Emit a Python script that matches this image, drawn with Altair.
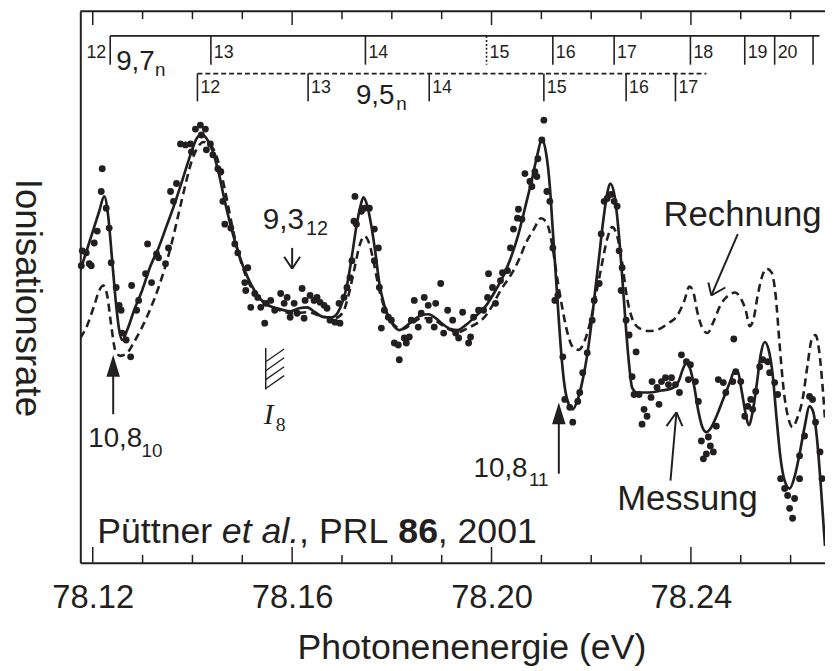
import altair as alt
import pandas as pd

# ---------------- data ----------------
# Messung (measured points): photon energy (eV), ionisation rate (arb. units)
meas_E = [78.1177, 78.1179, 78.1187, 78.1193, 78.1197, 78.1203, 78.1209, 78.1217, 78.1219, 78.1227,
          78.1233, 78.1237, 78.1247, 78.1253, 78.1257, 78.1259, 78.1267, 78.1276, 78.1278, 78.1288,
          78.1292, 78.1306, 78.1310, 78.1318, 78.1328, 78.1332, 78.1346, 78.1352, 78.1356, 78.1362,
          78.1368, 78.1376, 78.1386, 78.1396, 78.1398, 78.1406, 78.1416, 78.1426, 78.1418, 78.1428,
          78.1436, 78.1441, 78.1451, 78.1457, 78.1461, 78.1465, 78.1477, 78.1485, 78.1491, 78.1511,
          78.1505, 78.1507, 78.1525, 78.1517, 78.1531, 78.1537, 78.1545, 78.1547, 78.1557, 78.1565,
          78.1577, 78.1584, 78.1590, 78.1596, 78.1604, 78.1610, 78.1620, 78.1624, 78.1626, 78.1636,
          78.1644, 78.1650, 78.1656, 78.1664, 78.1670, 78.1676, 78.1686, 78.1696, 78.1694, 78.1704,
          78.1710, 78.1716, 78.1720, 78.1724, 78.1726, 78.1729, 78.1739, 78.1745, 78.1755, 78.1765,
          78.1773, 78.1765, 78.1775, 78.1785, 78.1793, 78.1779, 78.1799, 78.1805, 78.1813, 78.1815,
          78.1825, 78.1829, 78.1835, 78.1839, 78.1845, 78.1853, 78.1859, 78.1865, 78.1873, 78.1875,
          78.1885, 78.1888, 78.1898, 78.1904, 78.1912, 78.1922, 78.1928, 78.1934, 78.1942, 78.1954,
          78.1958, 78.1964, 78.1974, 78.1984, 78.1992, 78.1994, 78.2002, 78.2008, 78.2018, 78.2022,
          78.2032, 78.2038, 78.2044, 78.2052, 78.2054, 78.2061, 78.2067, 78.2077, 78.2081, 78.2087,
          78.2091, 78.2093, 78.2101, 78.2105, 78.2111, 78.2117, 78.2123, 78.2127, 78.2133, 78.2143,
          78.2147, 78.2157, 78.2163, 78.2173, 78.2177, 78.2183, 78.2192, 78.2202, 78.2206, 78.2216,
          78.2220, 78.2226, 78.2232, 78.2240, 78.2246, 78.2252, 78.2256, 78.2260, 78.2262, 78.2270,
          78.2276, 78.2290, 78.2282, 78.2286, 78.2296, 78.2306, 78.2312, 78.2302, 78.2320, 78.2322,
          78.2332, 78.2336, 78.2341, 78.2349, 78.2355, 78.2361, 78.2369, 78.2377, 78.2381, 78.2391,
          78.2399, 78.2395, 78.2409, 78.2415, 78.2421, 78.2435, 78.2439, 78.2431, 78.2425, 78.2445,
          78.2451, 78.2455, 78.2465, 78.2470, 78.2484, 78.2486, 78.2490, 78.2500, 78.2508, 78.2514,
          78.2520, 78.2524, 78.2530, 78.2538, 78.2544, 78.2554, 78.2558, 78.2568, 78.2574, 78.2580,
          78.2588, 78.2594, 78.2598, 78.2604, 78.2608, 78.2618, 78.2618, 78.2628, 78.2638, 78.2644,
          78.2650, 78.2659, 78.2663]
meas_rate = [300, 315, 313, 302, 300, 323, 335, 375, 398, 358,
             338, 303, 278, 260, 255, 232, 225, 208, 280, 255,
             265, 292, 322, 283, 312, 308, 302, 318, 375, 365,
             383, 423, 422, 423, 415, 438, 442, 438, 432, 417,
             423, 412, 398, 395, 365, 342, 338, 322, 313, 298,
             283, 275, 272, 258, 268, 258, 242, 262, 265, 255,
             272, 262, 268, 248, 262, 252, 277, 247, 265, 270,
             265, 268, 263, 260, 257, 245, 243, 242, 262, 268,
             278, 288, 305, 345, 370, 342, 355, 358, 358, 337,
             318, 305, 278, 255, 248, 237, 245, 222, 220, 205,
             227, 222, 228, 245, 265, 238, 252, 268, 260, 245,
             238, 262, 282, 232, 255, 245, 232, 227, 253, 222,
             228, 248, 255, 255, 268, 292, 278, 262, 285, 293,
             295, 318, 337, 348, 357, 347, 393, 385, 380, 395,
             390, 408, 427, 447, 375, 365, 318, 265, 270, 208,
             165, 157, 142, 163, 172, 192, 212, 245, 265, 282,
             332, 365, 368, 372, 365, 360, 315, 275, 298, 245,
             230, 213, 188, 170, 170, 155, 148, 140, 167, 183,
             177, 160, 183, 187, 180, 187, 180, 172, 210, 203,
             200, 185, 183, 163, 123, 127, 118, 110, 105, 112,
             138, 185, 182, 172, 183, 226, 193, 183, 148, 158,
             165, 155, 173, 198, 205, 203, 192, 182, 170, 85,
             75, 68, 55, 45, 65, 85, 108, 128, 168, 165,
             142, 112, 85]

# fit to the measurement (solid line)
fit_E = [78.1175, 78.1199, 78.1213, 78.1223, 78.1231, 78.1239, 78.1247, 78.1253, 78.1259, 78.1269,
         78.1283, 78.1299, 78.1316, 78.1332, 78.1348, 78.1366, 78.1382, 78.1398, 78.1408, 78.1417,
         78.1429, 78.1441, 78.1453, 78.1465, 78.1477, 78.1491, 78.1511, 78.1527, 78.1545, 78.1570,
         78.1596, 78.1614, 78.1630, 78.1646, 78.1664, 78.1680, 78.1692, 78.1702, 78.1710, 78.1720,
         78.1729, 78.1737, 78.1743, 78.1751, 78.1759, 78.1767, 78.1775, 78.1785, 78.1799, 78.1815,
         78.1829, 78.1843, 78.1859, 78.1874, 78.1888, 78.1902, 78.1918, 78.1932, 78.1948, 78.1968,
         78.1988, 78.2008, 78.2022, 78.2038, 78.2054, 78.2068, 78.2081, 78.2091, 78.2101, 78.2109,
         78.2117, 78.2123, 78.2129, 78.2135, 78.2141, 78.2147, 78.2155, 78.2163, 78.2173, 78.2183,
         78.2192, 78.2200, 78.2208, 78.2216, 78.2224, 78.2232, 78.2238, 78.2246, 78.2254, 78.2262,
         78.2270, 78.2276, 78.2282, 78.2292, 78.2316, 78.2341, 78.2361, 78.2375, 78.2385, 78.2391,
         78.2399, 78.2407, 78.2415, 78.2423, 78.2431, 78.2441, 78.2453, 78.2466, 78.2478, 78.2488,
         78.2494, 78.2502, 78.2510, 78.2516, 78.2524, 78.2532, 78.2540, 78.2548, 78.2556, 78.2564,
         78.2572, 78.2580, 78.2588, 78.2598, 78.2608, 78.2618, 78.2628, 78.2638, 78.2645, 78.2653,
         78.2661, 78.2669]
fit_rate = [295, 333, 355, 370, 350, 305, 260, 235, 225, 235,
            255, 275, 300, 318, 340, 365, 390, 415, 428, 433,
            428, 415, 393, 365, 340, 315, 288, 273, 262, 257,
            254, 257, 258, 253, 248, 248, 253, 265, 280, 310,
            340, 360, 369, 360, 340, 313, 282, 260, 243, 235,
            239, 245, 250, 251, 247, 241, 236, 235, 240, 249,
            259, 275, 288, 307, 332, 360, 387, 410, 427, 415,
            380, 335, 290, 245, 205, 177, 160, 155, 165, 185,
            210, 240, 275, 310, 345, 373, 383, 373, 340, 290,
            235, 200, 177, 172, 172, 174, 176, 183, 197, 202,
            195, 177, 153, 137, 132, 137, 150, 167, 182, 194,
            193, 173, 150, 139, 153, 180, 210, 223, 215, 190,
            145, 105, 83, 75, 87, 110, 137, 158, 153, 125,
            75, 17]

# Rechnung (calculation, dashed line)
calc_E = [78.1175, 78.1189, 78.1203, 78.1213, 78.1221, 78.1229, 78.1237, 78.1245, 78.1255, 78.1267,
          78.1283, 78.1299, 78.1316, 78.1332, 78.1346, 78.1358, 78.1372, 78.1386, 78.1398, 78.1410,
          78.1422, 78.1433, 78.1445, 78.1457, 78.1469, 78.1481, 78.1495, 78.1511, 78.1527, 78.1545,
          78.1570, 78.1600, 78.1630, 78.1660, 78.1686, 78.1702, 78.1713, 78.1725, 78.1735, 78.1745,
          78.1755, 78.1765, 78.1775, 78.1789, 78.1805, 78.1821, 78.1839, 78.1859, 78.1878, 78.1898,
          78.1918, 78.1934, 78.1952, 78.1968, 78.1984, 78.2002, 78.2018, 78.2038, 78.2054, 78.2069,
          78.2085, 78.2099, 78.2111, 78.2121, 78.2131, 78.2141, 78.2151, 78.2163, 78.2175, 78.2186,
          78.2198, 78.2210, 78.2222, 78.2232, 78.2242, 78.2252, 78.2262, 78.2272, 78.2282, 78.2296,
          78.2316, 78.2336, 78.2355, 78.2373, 78.2387, 78.2397, 78.2405, 78.2413, 78.2423, 78.2433,
          78.2445, 78.2459, 78.2475, 78.2489, 78.2500, 78.2510, 78.2518, 78.2526, 78.2534, 78.2542,
          78.2552, 78.2562, 78.2570, 78.2578, 78.2586, 78.2596, 78.2604, 78.2614, 78.2624, 78.2634,
          78.2642, 78.2650, 78.2657, 78.2663, 78.2669]
calc_rate = [227, 240, 260, 275, 280, 270, 240, 215, 209, 211,
             223, 238, 257, 278, 300, 322, 352, 382, 405, 419,
             425, 423, 415, 395, 367, 337, 308, 285, 271, 263,
             256, 252, 253, 249, 247, 253, 270, 297, 320, 330,
             322, 300, 275, 253, 240, 236, 241, 247, 247, 241,
             235, 233, 237, 241, 247, 260, 275, 290, 305, 323,
             337, 348, 343, 323, 290, 260, 235, 218, 215, 223,
             243, 272, 303, 327, 339, 330, 303, 267, 247, 237,
             234, 236, 242, 250, 265, 279, 273, 253, 237, 232,
             243, 260, 270, 273, 267, 255, 239, 247, 270, 288,
             297, 293, 270, 220, 175, 145, 137, 147, 165, 200,
             225, 230, 215, 185, 145]

# level series at the top: 9,7_n (solid) and 9,5_n (dashed)
lvl97_E = [78.1235, 78.1437, 78.1747, 78.1990, 78.2123, 78.2246, 78.2399, 78.2508, 78.2568, 78.2645]
lvl97_n = ["12", "13", "14", "15", "16", "17", "18", "19", "20", ""]
lvl97_dotted = [False, False, False, True, False, False, False, False, False, False]
lvl97_end = 78.2658
lvl95_E = [78.1410, 78.1632, 78.1875, 78.2105, 78.2270, 78.2369]
lvl95_n = ["12", "13", "14", "15", "16", "17"]
lvl95_end = 78.2431

major_ticks = [78.12, 78.16, 78.20, 78.24]
minor_ticks = [78.13, 78.14, 78.15, 78.17, 78.18, 78.19, 78.21, 78.22, 78.23, 78.25, 78.26]

# ---------------- layout / style ----------------
XMIN, XMAX = 78.1175, 78.2669
W, H = 752, 557
INK = "#231f20"
FONT = "Liberation Sans"
SERIF = "Liberation Serif"


def X(field="E"):
    return alt.X(
        f"{field}:Q",
        scale=alt.Scale(domain=[XMIN, XMAX], nice=False, zero=False),
        axis=alt.Axis(values=major_ticks, format=".2f", ticks=False, grid=False,
                      domainColor=INK, domainWidth=2, labelFontSize=33, labelColor=INK,
                      labelPadding=19, labelFont=FONT, labelFlush=False, labelOverlap=False,
                      title="Photonenenergie (eV)", titleFontSize=36, titleFont=FONT,
                      titleFontWeight="normal", titleColor=INK, titleX=395, titleY=97,
                      titleBaseline="alphabetic", titleAlign="center"),
    )


def Y(field="rate"):
    return alt.Y(
        f"{field}:Q",
        scale=alt.Scale(domain=[0, H], nice=False, zero=False),
        axis=alt.Axis(labels=False, ticks=False, grid=False, domainColor=INK, domainWidth=2,
                      title="Ionisationsrate", titleAngle=90, titleFontSize=37, titleFont=FONT,
                      titleFontWeight="normal", titleColor=INK, titleX=-65, titleY=289,
                      titleAlign="center", titleBaseline="alphabetic"),
    )


def seg_df(e1, r1, e2, r2):
    return pd.DataFrame({"E": e1, "rate": r1, "E2": e2, "rate2": r2})


def segs(df, width=1.6, dash=None):
    kw = dict(color=INK, strokeWidth=width)
    if dash:
        kw["strokeDash"] = dash
    return alt.Chart(df).mark_rule(**kw).encode(x=X(), y=Y(), x2="E2:Q", y2="rate2:Q")


def txt(E, rate, t, size, align="left", font=FONT, style="normal", weight="normal",
        baseline="alphabetic", dx=0):
    df = pd.DataFrame({"E": E, "rate": rate, "t": t})
    return alt.Chart(df).mark_text(fontSize=size, align=align, font=font, fontStyle=style,
                                   fontWeight=weight, baseline=baseline, color=INK, dx=dx
                                   ).encode(x=X(), y=Y(), text="t:N")


layers = []

# frame: top border and inside ticks
layers.append(alt.Chart(pd.DataFrame({"E": [XMIN], "E2": [XMAX]})).mark_rule(color=INK, strokeWidth=2)
              .encode(x=X(), x2="E2:Q", y=alt.value(0)))
tick_major = pd.DataFrame({"E": major_ticks})
tick_minor = pd.DataFrame({"E": minor_ticks})
for df, ln in [(tick_major, 16), (tick_minor, 8)]:
    layers.append(alt.Chart(df).mark_rule(color=INK, strokeWidth=1.5)
                  .encode(x=X(), y=alt.value(H), y2=alt.value(H - ln)))
for df, ln in [(tick_major, 14), (tick_minor, 8)]:
    layers.append(alt.Chart(df).mark_rule(color=INK, strokeWidth=1.5)
                  .encode(x=X(), y=alt.value(0), y2=alt.value(ln)))

# curves and points
layers.append(alt.Chart(pd.DataFrame({"E": calc_E, "rate": calc_rate}))
              .mark_line(color=INK, strokeWidth=2.6, strokeDash=[8, 5], interpolate="monotone", clip=True)
              .encode(x=X(), y=Y()))
layers.append(alt.Chart(pd.DataFrame({"E": fit_E, "rate": fit_rate}))
              .mark_line(color=INK, strokeWidth=2.7, interpolate="monotone", clip=True)
              .encode(x=X(), y=Y()))
layers.append(alt.Chart(pd.DataFrame({"E": meas_E, "rate": meas_rate}))
              .mark_circle(color=INK, size=48, opacity=1)
              .encode(x=X(), y=Y()))

# level series 9,7_n
layers.append(segs(seg_df([lvl97_E[0]], [532], [lvl97_end], [532]), width=1.8))
solid97 = [e for e, d in zip(lvl97_E, lvl97_dotted) if not d]
dot97 = [e for e, d in zip(lvl97_E, lvl97_dotted) if d]
layers.append(segs(seg_df(solid97, [532] * len(solid97), solid97, [503] * len(solid97))))
layers.append(segs(seg_df(dot97, [532] * len(dot97), dot97, [503] * len(dot97)), dash=[2, 2]))
layers.append(txt(lvl97_E[:1], [515], lvl97_n[:1], 18, align="right", baseline="middle", dx=-4))
layers.append(txt(lvl97_E[1:], [515] * (len(lvl97_E) - 1), lvl97_n[1:], 18, baseline="middle", dx=3))
layers.append(txt([78.1247], [498], ["9,7"], 28))
layers.append(txt([78.1325], [492], ["n"], 19))

# level series 9,5_n
layers.append(segs(seg_df([lvl95_E[0]], [494], [lvl95_end], [494]), width=1.6, dash=[5, 3]))
layers.append(segs(seg_df(lvl95_E, [494] * len(lvl95_E), lvl95_E, [466] * len(lvl95_E))))
layers.append(txt(lvl95_E, [479] * len(lvl95_E), lvl95_n, 18, baseline="middle", dx=3))
layers.append(txt([78.1728], [463], ["9,5"], 28))
layers.append(txt([78.1809], [457], ["n"], 19))

# labels in the plot
layers.append(txt([78.1541], [337], ["9,3"], 30))
layers.append(txt([78.1628], [331], ["12"], 20))
layers.append(txt([78.1191], [117], ["10,8"], 28))
layers.append(txt([78.1298], [107], ["10"], 19))
layers.append(txt([78.1964], [87], ["10,8"], 28))
layers.append(txt([78.2075], [78], ["11"], 19))
layers.append(txt([78.1543], [140], ["I"], 30, font=SERIF, style="italic"))
layers.append(txt([78.1567], [133], ["8"], 20, font=SERIF))
layers.append(txt([78.2252], [53], ["Messung"], 35))
layers.append(txt([78.2345], [340], ["Rechnung"], 35))
layers.append(txt([78.1209], [20], ["Püttner"], 36))
layers.append(txt([78.1459], [20], ["et al."], 36, style="italic"))
layers.append(txt([78.1614], [20], [", PRL"], 36))
layers.append(txt([78.1813], [20], ["86"], 36, weight="bold"))
layers.append(txt([78.1892], [20], [", 2001"], 36))

# arrows: stems
layers.append(segs(seg_df([78.1241, 78.2135, 78.1600, 78.2359, 78.2494],
                          [150, 90, 318, 83, 332],
                          [78.1241, 78.2135, 78.1600, 78.2371, 78.2441],
                          [193, 145, 297, 152, 270]), width=2))
# open arrow heads
layers.append(segs(seg_df([78.1600, 78.1600, 78.2371, 78.2371, 78.2441, 78.2441],
                          [297, 297, 152, 152, 270, 270],
                          [78.1584, 78.1616, 78.2351, 78.2383, 78.2435, 78.2469],
                          [309, 309, 138, 138, 283, 278]), width=2))
# filled arrow heads
layers.append(alt.Chart(pd.DataFrame({"E": [78.1241, 78.2135], "rate": [199, 151]}))
              .mark_point(shape="M0,-1L0.62,1L-0.62,1Z", size=484, filled=True, color=INK, opacity=1)
              .encode(x=X(), y=Y()))

# I_8 hatch marker
layers.append(segs(seg_df([78.1547], [217], [78.1547], [175]), width=1.5))
layers.append(segs(seg_df([78.1547] * 4, [203, 194, 185, 176], [78.1584] * 4, [216, 207, 198, 189]), width=1.3))

chart = (
    alt.layer(*layers)
    .properties(width=W, height=H,
                padding={"left": 73, "top": 0, "right": 0, "bottom": 106},
                autosize=alt.AutoSizeParams(type="none"))
    .configure(font=FONT)
    .configure_view(stroke=None)
)

chart.save("out.html", embed_options={"renderer": "svg", "actions": False})
